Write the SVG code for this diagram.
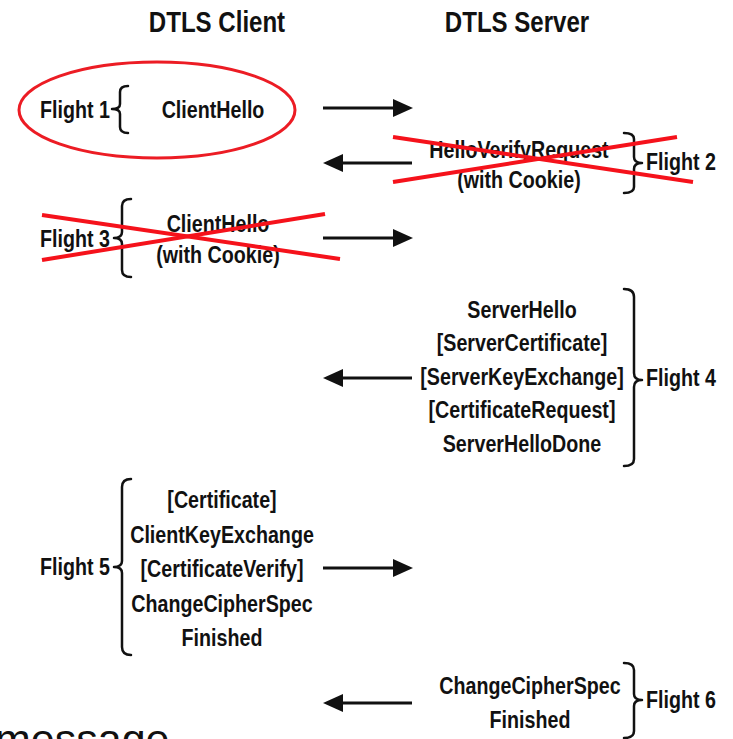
<svg xmlns="http://www.w3.org/2000/svg" width="733" height="739" viewBox="0 0 733 739">
<defs>
<style>
.t{font-family:"Liberation Sans",Arial,sans-serif;font-weight:bold;font-size:24px;fill:#111;text-anchor:middle}
.s{text-anchor:start}
.h{font-size:29px}
.br{fill:none;stroke:#111;stroke-width:2.5;stroke-linecap:round;stroke-linejoin:round}
.ar{stroke:#111;stroke-width:3;fill:none}
.x{stroke:#f5121b;stroke-width:4;fill:none}
</style>
<marker id="ah" viewBox="0 0 20 18" refX="1" refY="9" markerWidth="20" markerHeight="18" markerUnits="userSpaceOnUse" orient="auto">
<path d="M0,0 L20,9 L0,18 Z" fill="#111"/>
</marker>
</defs>
<rect width="733" height="739" fill="#fff"/>

<g id="client-title"><text class="t h" transform="translate(217 0) scale(.83 1)" y="32">DTLS Client</text></g>
<g id="server-title"><text class="t h" transform="translate(517 0) scale(.83 1)" y="32">DTLS Server</text></g>

<g id="flight1">
<ellipse cx="157" cy="110" rx="138" ry="48" fill="none" stroke="#ec1c24" stroke-width="3"/>
<text class="t s" transform="translate(40 0) scale(.82 1)" y="118">Flight 1</text>
<path class="br" d="M128,86 Q120,86 120,92 L120,104 Q120,109 112,109 Q120,109 120,114 L120,127 Q120,133 128,133"/>
<text class="t" transform="translate(213 0) scale(.82 1)" y="118">ClientHello</text>
</g>

<g id="flight2">
<text class="t" transform="translate(519 0) scale(.82 1)" y="158">HelloVerifyRequest</text>
<text class="t" transform="translate(519 0) scale(.82 1)" y="188">(with Cookie)</text>
<path class="br" d="M624,133 Q634,133 634,139 L634,157 Q634,163 642,163 Q634,163 634,169 L634,187 Q634,193 624,193"/>
<text class="t s" transform="translate(646 0) scale(.82 1)" y="170">Flight 2</text>
<line class="x" x1="393" y1="137" x2="693" y2="182"/>
<line class="x" x1="393" y1="182" x2="677" y2="137"/>
</g>

<g id="flight3">
<text class="t s" transform="translate(40 0) scale(.82 1)" y="247">Flight 3</text>
<path class="br" d="M131,199 Q122,199 122,206 L122,232 Q122,238 114,238 Q122,238 122,244 L122,270 Q122,277 131,277"/>
<text class="t" transform="translate(218 0) scale(.82 1)" y="232">ClientHello</text>
<text class="t" transform="translate(218 0) scale(.82 1)" y="263">(with Cookie)</text>
<line class="x" x1="42" y1="215" x2="340" y2="259"/>
<line class="x" x1="42" y1="260" x2="325" y2="214"/>
</g>

<g id="flight4">
<text class="t" transform="translate(522 0) scale(.82 1)" y="318">ServerHello</text>
<text class="t" transform="translate(522 0) scale(.82 1)" y="351">[ServerCertificate]</text>
<text class="t" transform="translate(522 0) scale(.82 1)" y="385">[ServerKeyExchange]</text>
<text class="t" transform="translate(522 0) scale(.82 1)" y="418">[CertificateRequest]</text>
<text class="t" transform="translate(522 0) scale(.82 1)" y="452">ServerHelloDone</text>
<path class="br" d="M624,289 Q634,289 634,297 L634,373 Q634,380 642,380 Q634,380 634,387 L634,459 Q634,466 624,466"/>
<text class="t s" transform="translate(646 0) scale(.82 1)" y="386">Flight 4</text>
</g>

<g id="flight5">
<text class="t s" transform="translate(40 0) scale(.82 1)" y="575">Flight 5</text>
<path class="br" d="M131,479 Q122,479 122,487 L122,561 Q122,567 114,567 Q122,567 122,573 L122,647 Q122,655 131,655"/>
<text class="t" transform="translate(222 0) scale(.82 1)" y="508">[Certificate]</text>
<text class="t" transform="translate(222 0) scale(.82 1)" y="543">ClientKeyExchange</text>
<text class="t" transform="translate(222 0) scale(.82 1)" y="577">[CertificateVerify]</text>
<text class="t" transform="translate(222 0) scale(.82 1)" y="612">ChangeCipherSpec</text>
<text class="t" transform="translate(222 0) scale(.82 1)" y="646">Finished</text>
</g>

<g id="flight6">
<text class="t" transform="translate(530 0) scale(.82 1)" y="694">ChangeCipherSpec</text>
<text class="t" transform="translate(530 0) scale(.82 1)" y="728">Finished</text>
<path class="br" d="M624,663 Q634,663 634,670 L634,694 Q634,700 642,700 Q634,700 634,706 L634,731 Q634,738 624,738"/>
<text class="t s" transform="translate(646 0) scale(.82 1)" y="708">Flight 6</text>
</g>

<g id="connectors">
<line class="ar" x1="323" y1="108" x2="394" y2="108" marker-end="url(#ah)"/>
<line class="ar" x1="412" y1="163" x2="342" y2="163" marker-end="url(#ah)"/>
<line class="ar" x1="323" y1="238" x2="394" y2="238" marker-end="url(#ah)"/>
<line class="ar" x1="412" y1="378" x2="342" y2="378" marker-end="url(#ah)"/>
<line class="ar" x1="323" y1="568" x2="394" y2="568" marker-end="url(#ah)"/>
<line class="ar" x1="412" y1="703" x2="342" y2="703" marker-end="url(#ah)"/>
</g>

<g id="caption"><text x="-5" y="754" font-family="'Liberation Sans',Arial,sans-serif" font-size="43" fill="#111">message</text></g>
</svg>
